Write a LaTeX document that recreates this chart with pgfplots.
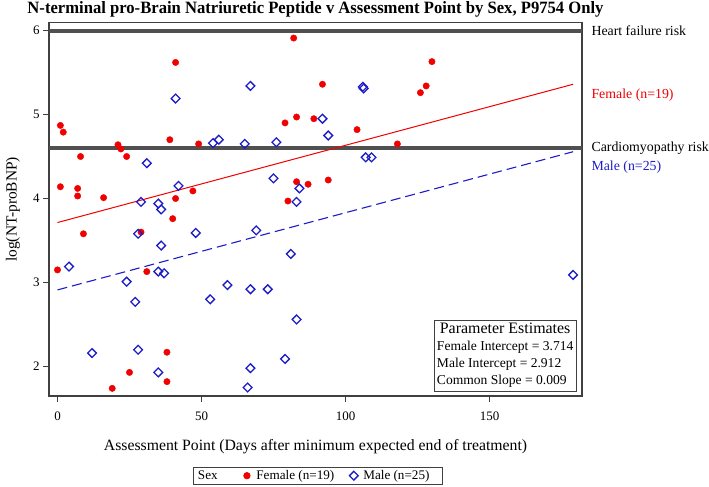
\documentclass[border=0pt]{standalone}
\usepackage{fontspec}
\setmainfont{Liberation Serif}
\usepackage{graphicx}
\usepackage{pgfplots}
\usepackage{pgfplotstable}
\pgfplotsset{compat=1.18}
\definecolor{refgray}{HTML}{505050}
\definecolor{frame}{HTML}{404040}
\definecolor{myred}{HTML}{F00000}
\definecolor{myblue}{HTML}{1C1CC8}

\pgfplotstableread{
x y
0 3.15
1 4.87
2 4.79
1 4.14
7 4.12
7 4.03
8 4.50
9 3.58
16 4.01
19 1.74
21 4.64
22 4.59
24 4.50
25 1.93
29 3.60
31 3.13
38 2.17
38 1.82
39 4.70
40 3.76
41 5.62
41 4.00
47 4.09
49 4.65
79 4.90
80 3.97
82 5.91
83 4.97
83 4.20
87 4.17
89 4.95
92 5.36
94 4.22
104 4.82
118 4.65
126 5.26
128 5.34
130 5.63
}\female

\pgfplotstableread{
x y
4 3.19
12 2.16
24 3.01
27 2.77
28 3.58
28 2.20
29 3.96
31 4.42
35 3.94
35 3.13
35 1.93
36 3.87
36 3.44
37 3.11
41 5.19
42 4.15
48 3.59
53 2.80
54 4.66
56 4.70
59 2.97
65 4.65
66 1.75
67 5.34
67 2.92
67 1.98
69 3.62
73 2.92
75 4.24
76 4.67
79 2.09
81 3.34
83 3.96
83 2.56
84 4.12
92 4.95
94 4.75
106 5.33
106.3 5.31
107 4.49
109 4.49
179 3.09
}\male

\begin{document}
\begin{tikzpicture}
\useasboundingbox (0,0) rectangle (709bp,487bp);
\begin{axis}[
  at={(49bp,91bp)}, anchor=south west,
  scale only axis, width=533bp, height=373.3bp,
  xmin=-2.95, xmax=182.1, ymin=1.649, ymax=6.093,
  xtick={0,50,100,150}, ytick={2,3,4,5,6},
  tick align=outside, xtick pos=bottom, ytick pos=left,
  major tick length=6bp,
  axis line style={draw=frame, line width=1.2bp},
  every tick/.style={frame, line width=1bp},
  tick label style={font=\fontsize{13}{15}\selectfont},
  xticklabel style={yshift=-6bp},
  /pgf/number format/assume math mode=true,
  clip=false,
  legend style={at={(axis description cs:0.504,-0.2135)}, anchor=center,
    draw=frame, line width=0.8bp, font=\fontsize{13.2}{15}\selectfont,
    inner xsep=2.6bp, inner ysep=1.2bp,
    /tikz/every even column/.append style={column sep=10bp}},
  legend columns=-1,
  legend image code/.code={%
    \path[draw=none, fill=none] (0bp,-3bp) rectangle (15bp,3bp);
    \draw[#1, mark repeat=2, mark phase=2] plot coordinates {(0bp,0bp)(7.5bp,0bp)(15bp,0bp)};},
]
\addplot[forget plot, refgray, line width=4bp] coordinates {(-2.95,6) (182.1,6)};
\addplot[forget plot, refgray, line width=4bp] coordinates {(-2.95,4.605) (182.1,4.605)};
\addplot[forget plot, myred, line width=1bp] coordinates {(0,3.714) (179,5.36)};
\addplot[forget plot, myblue, line width=1.1bp, dash pattern=on 10bp off 5bp] coordinates {(0,2.912) (179,4.557)};

\addlegendimage{empty legend}
\addlegendentry{\makebox[29.5bp][l]{Sex}}
\addplot[only marks, mark=*, mark size=3.2bp, mark options={draw=myred, fill=myred}] table {\female};
\addlegendentry{Female (n=19)}
\addplot[only marks, mark=square, mark size=3.1bp, mark options={draw=myblue, rotate=45, line width=1.3bp}] table {\male};
\addlegendentry{\makebox[74bp][l]{Male (n=25)}}

\node[anchor=west, xshift=6bp, font=\fontsize{13.9}{16}\selectfont] at (axis cs:182.1,6) {Heart failure risk};
\node[anchor=west, xshift=6bp, font=\fontsize{13.9}{16}\selectfont] at (axis cs:182.1,4.605) {Cardiomyopathy risk};
\node[anchor=west, xshift=6bp, font=\fontsize{13.9}{16}\selectfont, text=myred] at (axis cs:182.1,5.232) {Female (n=19)};
\node[anchor=west, xshift=6bp, font=\fontsize{13.9}{16}\selectfont, text=myblue] at (axis cs:182.1,4.379) {Male (n=25)};

\node[anchor=base, yshift=9.4bp, inner sep=0pt] at (axis description cs:0.5,1)
  {\resizebox{576bp}{12bp}{\fontsize{18}{20}\selectfont\bfseries N-terminal pro-Brain Natriuretic Peptide v Assessment Point by Sex, P9754 Only}};
\node[yshift=-51bp, font=\fontsize{15.8}{18}\selectfont] at (axis description cs:0.5,0)
  {Assessment Point (Days after minimum expected end of treatment)};
\path (axis description cs:0,0.5) ++(-36bp,0pt) node[rotate=90, font=\fontsize{15.5}{18}\selectfont] {log(NT-proBNP)};

\node[draw=frame, line width=0.8bp, anchor=south east, xshift=-5.3bp, yshift=4.3bp,
      inner xsep=3bp, inner ysep=1.5bp, font=\fontsize{13.6}{17}\selectfont]
  at (axis description cs:1,0)
  {\begin{tabular}{@{}l@{}}
   \multicolumn{1}{@{}c@{}}{\fontsize{16}{17}\selectfont Parameter Estimates}\\
   Female Intercept = 3.714\\
   Male Intercept = 2.912\\
   Common Slope = 0.009
   \end{tabular}};
\end{axis}
\end{tikzpicture}
\end{document}
